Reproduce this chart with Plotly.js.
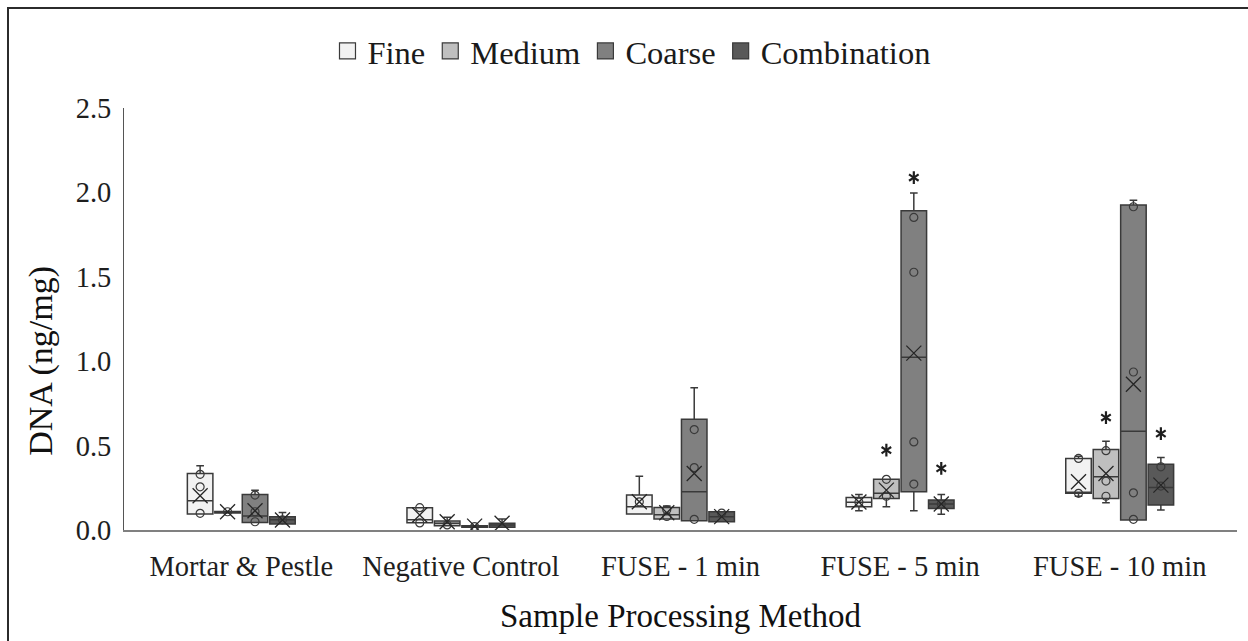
<!DOCTYPE html>
<html>
<head>
<meta charset="utf-8">
<script src="https://cdn.plot.ly/plotly-3.0.1.min.js"></script>
<style>
  html, body { margin: 0; padding: 0; background: #ffffff; overflow: hidden; }
  #chart { width: 1248px; height: 641px; }
  #frame { position: absolute; left: 7px; top: 7px; width: 1300px; height: 700px;
           border-left: 2px solid #2b2b2b; border-top: 2px solid #2b2b2b; pointer-events: none; }
</style>
</head>
<body>
<div id="chart"></div>
<div id="frame"></div>
<script>
const categories = ['Mortar & Pestle', 'Negative Control', 'FUSE - 1 min', 'FUSE - 5 min', 'FUSE - 10 min'];
const seriesNames = ['Fine', 'Medium', 'Coarse', 'Combination'];
const xTitle = 'Sample Processing Method';
const yTitle = 'DNA (ng/mg)';

// Fine
const fineQ1     = [0.095, 0.043, 0.095, 0.138, 0.217];
const fineMedian = [0.173, 0.060, 0.138, 0.164, 0.222];
const fineQ3     = [0.335, 0.132, 0.207, 0.193, 0.424];
const fineLow    = [0.095, 0.043, 0.095, 0.114, 0.200];
const fineHigh   = [0.380, 0.132, 0.319, 0.211, 0.437];
const fineMean   = [0.203, 0.089, 0.167, 0.166, 0.286];
const finePoints = [[0.330, 0.256, 0.099], [0.132, 0.042], [0.167], [0.165], [0.424, 0.217]];
const fineStars  = [null, null, null, null, null];

// Medium
const mediumQ1     = [0.100, 0.025, 0.065, 0.187, 0.187];
const mediumMedian = [0.105, 0.040, 0.090, 0.217, 0.315];
const mediumQ3     = [0.110, 0.053, 0.134, 0.300, 0.477];
const mediumLow    = [0.100, 0.025, 0.065, 0.138, 0.161];
const mediumHigh   = [0.110, 0.075, 0.142, 0.300, 0.526];
const mediumMean   = [0.108, 0.049, 0.102, 0.236, 0.335];
const mediumPoints = [[0.108], [0.030], [0.120, 0.080], [0.300, 0.200], [0.470, 0.290, 0.200]];
const mediumStars  = [null, null, null, 0.473, 0.666];

// Coarse
const coarseQ1     = [0.045, 0.016, 0.055, 0.227, 0.059];
const coarseMedian = [0.083, 0.020, 0.227, 1.024, 0.585];
const coarseQ3     = [0.211, 0.025, 0.656, 1.891, 1.925];
const coarseLow    = [0.045, 0.016, 0.055, 0.114, 0.059];
const coarseHigh   = [0.236, 0.025, 0.843, 1.996, 1.954];
const coarseMean   = [0.114, 0.023, 0.335, 1.048, 0.863];
const coarsePoints = [[0.207, 0.108, 0.049], [0.020], [0.595, 0.370, 0.063], [1.852, 1.527, 0.522, 0.272], [1.915, 0.936, 0.220, 0.063]];
const coarseStars  = [null, null, null, 2.088, null];

// Combination
const comboQ1     = [0.035, 0.016, 0.049, 0.128, 0.148];
const comboMedian = [0.060, 0.030, 0.079, 0.154, 0.252];
const comboQ3     = [0.079, 0.040, 0.108, 0.177, 0.390];
const comboLow    = [0.035, 0.016, 0.049, 0.093, 0.118];
const comboHigh   = [0.104, 0.065, 0.108, 0.211, 0.430];
const comboMean   = [0.059, 0.040, 0.079, 0.154, 0.266];
const comboPoints = [[0.060], [], [0.100], [0.154], [0.374, 0.260]];
const comboStars  = [null, null, null, 0.365, 0.571];

const fills = ['#f2f2f2', '#bfbfbf', '#808080', '#595959'];
const edge = '#3a3a3a';

const series = [
  {q1: fineQ1, med: fineMedian, q3: fineQ3, lo: fineLow, hi: fineHigh, mean: fineMean, pts: finePoints, stars: fineStars},
  {q1: mediumQ1, med: mediumMedian, q3: mediumQ3, lo: mediumLow, hi: mediumHigh, mean: mediumMean, pts: mediumPoints, stars: mediumStars},
  {q1: coarseQ1, med: coarseMedian, q3: coarseQ3, lo: coarseLow, hi: coarseHigh, mean: coarseMean, pts: coarsePoints, stars: coarseStars},
  {q1: comboQ1, med: comboMedian, q3: comboQ3, lo: comboLow, hi: comboHigh, mean: comboMean, pts: comboPoints, stars: comboStars}
];

const traces = [];
const hidden = {fillcolor: 'rgba(0,0,0,0)', line: {width: 0, color: 'rgba(0,0,0,0)'}, showlegend: false,
                boxpoints: 'all', jitter: 0, pointpos: 0, alignmentgroup: 'g', hoverinfo: 'skip'};

series.forEach((s, i) => {
  traces.push({
    type: 'box', name: seriesNames[i], x: categories,
    q1: s.q1, median: s.med, q3: s.q3, lowerfence: s.lo, upperfence: s.hi,
    fillcolor: fills[i], line: {color: edge, width: 1.5}, whiskerwidth: 0.3,
    boxpoints: false, offsetgroup: seriesNames[i], alignmentgroup: 'g', showlegend: false
  });
});
series.forEach((s, i) => {
  const px = [], py = [];
  s.pts.forEach((arr, k) => arr.forEach(v => { px.push(categories[k]); py.push(v); }));
  traces.push(Object.assign({}, hidden, {
    type: 'box', name: seriesNames[i] + ' points', x: px, y: py, offsetgroup: seriesNames[i],
    marker: {symbol: 'circle-open', size: 8, color: '#3a3a3a', line: {width: 1.2, color: '#3a3a3a'}}
  }));
  traces.push(Object.assign({}, hidden, {
    type: 'box', name: seriesNames[i] + ' mean', x: categories, y: s.mean, offsetgroup: seriesNames[i],
    marker: {symbol: 'x-thin-open', size: 15, color: '#262626', line: {width: 1.3, color: '#262626'}}
  }));
  const sx = [], sy = [];
  s.stars.forEach((v, k) => { if (v !== null) { sx.push(categories[k]); sy.push(v); } });
  if (sx.length) {
    ['y-up-open', 'y-down-open'].forEach(sym => {
      traces.push(Object.assign({}, hidden, {
        type: 'box', name: seriesNames[i] + ' sig', x: sx, y: sy, offsetgroup: seriesNames[i],
        marker: {symbol: sym, size: 8, color: '#1e1e1e', line: {width: 2.2, color: '#1e1e1e'}}
      }));
    });
  }
});
// legend entries (square swatches)
seriesNames.forEach((n, i) => {
  traces.push({type: 'scatter', mode: 'markers', name: n, x: [null], y: [null], showlegend: true,
    marker: {symbol: 'square', size: 16, color: fills[i], line: {width: 1.2, color: edge}}, hoverinfo: 'skip'});
});

const font = 'Liberation Serif, Times New Roman, serif';
const layout = {
  width: 1248, height: 641,
  margin: {l: 124, r: 11, t: 108, b: 111},
  paper_bgcolor: '#ffffff', plot_bgcolor: '#ffffff',
  font: {family: font, color: '#222222', size: 28.5},
  boxmode: 'group', boxgap: 0.5, boxgroupgap: 0.07,
  showlegend: true,
  legend: {orientation: 'h', xref: 'container', yref: 'container', x: 0.506, xanchor: 'center',
           y: 0.92, yanchor: 'middle', font: {size: 32.5, family: font, color: '#1a1a1a'},
           itemclick: false, traceorder: 'normal', itemwidth: 30},
  xaxis: {type: 'category', categoryorder: 'array', categoryarray: categories,
          showline: true, linecolor: '#808080', linewidth: 2, showgrid: false, zeroline: false,
          ticks: '', tickfont: {size: 28.5, family: font, color: '#1e1e1e'}, ticklabelstandoff: 10,
          title: {text: xTitle, font: {size: 33, family: font, color: '#111111'}, standoff: 23}},
  yaxis: {range: [0, 2.5], dtick: 0.5, tickformat: '.1f', showline: true, linecolor: '#555555', linewidth: 1,
          showgrid: false, zeroline: false, ticks: '', ticklabelstandoff: 6,
          tickfont: {size: 28.5, family: font, color: '#1e1e1e'}},
  annotations: [{text: yTitle, textangle: -90, xref: 'paper', yref: 'paper', x: -0.074, y: 0.40,
                 xanchor: 'center', yanchor: 'middle', showarrow: false,
                 font: {size: 34, family: font, color: '#111111'}}]
};

Plotly.newPlot('chart', traces, layout, {displayModeBar: false, staticPlot: true});
</script>
</body>
</html>
